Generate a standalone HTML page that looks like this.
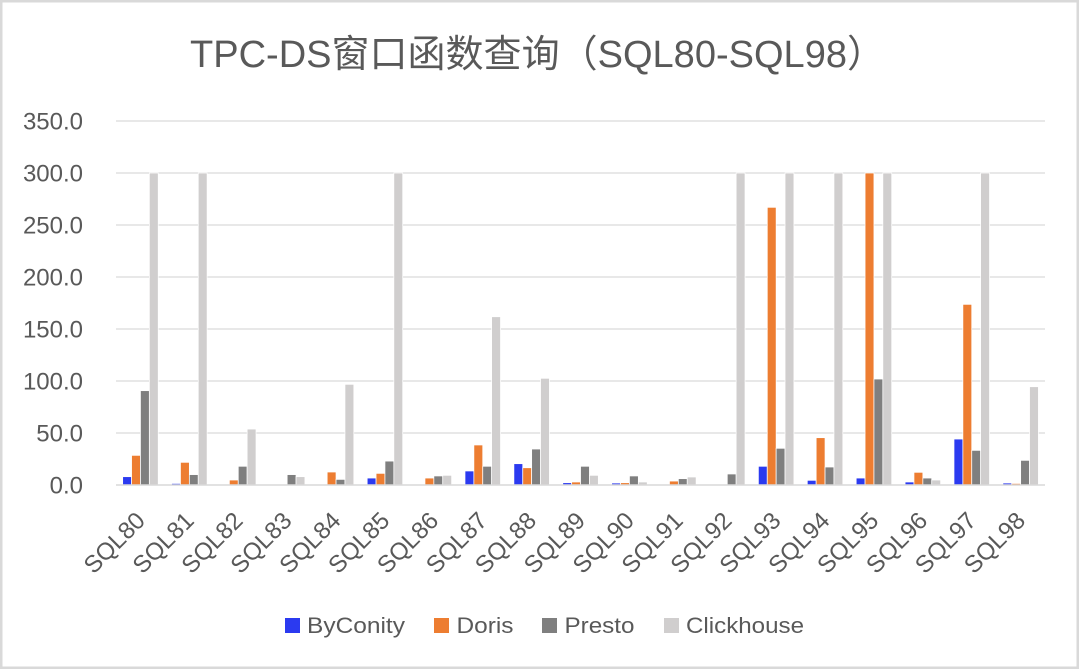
<!DOCTYPE html>
<html>
<head>
<meta charset="utf-8">
<style>
  html,body{margin:0;padding:0;background:#fff;}
  svg{display:block;}
  text{font-family:"Liberation Sans","Noto Sans CJK SC",sans-serif;fill:#595959;}
</style>
</head>
<body>
<svg width="1080" height="669" viewBox="0 0 1080 669" xmlns="http://www.w3.org/2000/svg">
  <rect x="0" y="0" width="1080" height="669" fill="#fff"/>
  <rect x="1.25" y="1.25" width="1076.5" height="666.5" fill="none" stroke="#d9d9d9" stroke-width="2.5"/>

  <!-- Title -->
  <text x="190" y="67" font-size="38" textLength="695" lengthAdjust="spacingAndGlyphs">TPC-DS窗口函数查询（SQL80-SQL98）</text>

  <!-- Gridlines -->
  <g stroke="#d9d9d9" stroke-width="1.3">
    <line x1="116" y1="121" x2="1045" y2="121"/>
    <line x1="116" y1="173" x2="1045" y2="173"/>
    <line x1="116" y1="225" x2="1045" y2="225"/>
    <line x1="116" y1="277" x2="1045" y2="277"/>
    <line x1="116" y1="329" x2="1045" y2="329"/>
    <line x1="116" y1="381" x2="1045" y2="381"/>
    <line x1="116" y1="433" x2="1045" y2="433"/>
  </g>

  <!-- Y labels -->
  <g font-size="24" text-anchor="end">
    <text x="83" y="129.5">350.0</text>
    <text x="83" y="181.5">300.0</text>
    <text x="83" y="233.5">250.0</text>
    <text x="83" y="285.5">200.0</text>
    <text x="83" y="337.5">150.0</text>
    <text x="83" y="389.5">100.0</text>
    <text x="83" y="441.5">50.0</text>
    <text x="83" y="493.5">0.0</text>
  </g>

  <!-- Bars -->
  <g stroke="#fff" stroke-width="0.75">
    <!-- SQL80 -->
    <rect x="122.67" y="476.68" width="8.89" height="8.32" fill="#2B3AF0"/>
    <rect x="131.56" y="455.36" width="8.89" height="29.64" fill="#ED7D31"/>
    <rect x="140.45" y="390.67" width="8.89" height="94.33" fill="#7F7F7F"/>
    <rect x="149.34" y="173" width="8.89" height="312" fill="#D0CECE"/>
    <!-- SQL81 -->
    <rect x="171.57" y="483.44" width="8.89" height="1.56" fill="#2B3AF0"/>
    <rect x="180.46" y="462.33" width="8.89" height="22.67" fill="#ED7D31"/>
    <rect x="189.35" y="474.6" width="8.89" height="10.4" fill="#7F7F7F"/>
    <rect x="198.24" y="173" width="8.89" height="312" fill="#D0CECE"/>
    <!-- SQL82 -->
    <rect x="229.36" y="480.01" width="8.89" height="4.99" fill="#ED7D31"/>
    <rect x="238.25" y="466.28" width="8.89" height="18.72" fill="#7F7F7F"/>
    <rect x="247.14" y="429.05" width="8.89" height="55.95" fill="#D0CECE"/>
    <!-- SQL83 -->
    <rect x="287.15" y="474.6" width="8.89" height="10.4" fill="#7F7F7F"/>
    <rect x="296.04" y="476.68" width="8.89" height="8.32" fill="#D0CECE"/>
    <!-- SQL84 -->
    <rect x="327.16" y="472" width="8.89" height="13" fill="#ED7D31"/>
    <rect x="336.05" y="479.38" width="8.89" height="5.62" fill="#7F7F7F"/>
    <rect x="344.94" y="384.33" width="8.89" height="100.67" fill="#D0CECE"/>
    <!-- SQL85 -->
    <rect x="367.17" y="478.03" width="8.89" height="6.97" fill="#2B3AF0"/>
    <rect x="376.06" y="473.35" width="8.89" height="11.65" fill="#ED7D31"/>
    <rect x="384.95" y="461.08" width="8.89" height="23.92" fill="#7F7F7F"/>
    <rect x="393.84" y="173" width="8.89" height="312" fill="#D0CECE"/>
    <!-- SQL86 -->
    <rect x="424.96" y="478.03" width="8.89" height="6.97" fill="#ED7D31"/>
    <rect x="433.85" y="475.95" width="8.89" height="9.05" fill="#7F7F7F"/>
    <rect x="442.74" y="475.33" width="8.89" height="9.67" fill="#D0CECE"/>
    <!-- SQL87 -->
    <rect x="464.97" y="470.96" width="8.89" height="14.04" fill="#2B3AF0"/>
    <rect x="473.86" y="444.96" width="8.89" height="40.04" fill="#ED7D31"/>
    <rect x="482.75" y="466.28" width="8.89" height="18.72" fill="#7F7F7F"/>
    <rect x="491.64" y="316.73" width="8.89" height="168.27" fill="#D0CECE"/>
    <!-- SQL88 -->
    <rect x="513.87" y="463.68" width="8.89" height="21.32" fill="#2B3AF0"/>
    <rect x="522.76" y="467.74" width="8.89" height="17.26" fill="#ED7D31"/>
    <rect x="531.65" y="449.02" width="8.89" height="35.98" fill="#7F7F7F"/>
    <rect x="540.54" y="378.3" width="8.89" height="106.7" fill="#D0CECE"/>
    <!-- SQL89 -->
    <rect x="562.77" y="482.71" width="8.89" height="2.29" fill="#2B3AF0"/>
    <rect x="571.66" y="481.98" width="8.89" height="3.02" fill="#ED7D31"/>
    <rect x="580.55" y="466.28" width="8.89" height="18.72" fill="#7F7F7F"/>
    <rect x="589.44" y="475.33" width="8.89" height="9.67" fill="#D0CECE"/>
    <!-- SQL90 -->
    <rect x="611.67" y="483.02" width="8.89" height="1.98" fill="#2B3AF0"/>
    <rect x="620.56" y="482.71" width="8.89" height="2.29" fill="#ED7D31"/>
    <rect x="629.45" y="475.95" width="8.89" height="9.05" fill="#7F7F7F"/>
    <rect x="638.34" y="481.98" width="8.89" height="3.02" fill="#D0CECE"/>
    <!-- SQL91 -->
    <rect x="669.46" y="481.05" width="8.89" height="3.95" fill="#ED7D31"/>
    <rect x="678.35" y="478.66" width="8.89" height="6.34" fill="#7F7F7F"/>
    <rect x="687.24" y="476.99" width="8.89" height="8.01" fill="#D0CECE"/>
    <!-- SQL92 -->
    <rect x="727.25" y="473.98" width="8.89" height="11.02" fill="#7F7F7F"/>
    <rect x="736.14" y="173" width="8.89" height="312" fill="#D0CECE"/>
    <!-- SQL93 -->
    <rect x="758.37" y="466.28" width="8.89" height="18.72" fill="#2B3AF0"/>
    <rect x="767.26" y="207.32" width="8.89" height="277.68" fill="#ED7D31"/>
    <rect x="776.15" y="448.29" width="8.89" height="36.71" fill="#7F7F7F"/>
    <rect x="785.04" y="173" width="8.89" height="312" fill="#D0CECE"/>
    <!-- SQL94 -->
    <rect x="807.27" y="480.32" width="8.89" height="4.68" fill="#2B3AF0"/>
    <rect x="816.16" y="437.68" width="8.89" height="47.32" fill="#ED7D31"/>
    <rect x="825.05" y="467.01" width="8.89" height="17.99" fill="#7F7F7F"/>
    <rect x="833.94" y="173" width="8.89" height="312" fill="#D0CECE"/>
    <!-- SQL95 -->
    <rect x="856.17" y="478.03" width="8.89" height="6.97" fill="#2B3AF0"/>
    <rect x="865.06" y="173" width="8.89" height="312" fill="#ED7D31"/>
    <rect x="873.95" y="379.02" width="8.89" height="105.98" fill="#7F7F7F"/>
    <rect x="882.84" y="173" width="8.89" height="312" fill="#D0CECE"/>
    <!-- SQL96 -->
    <rect x="905.07" y="481.98" width="8.89" height="3.02" fill="#2B3AF0"/>
    <rect x="913.96" y="472.31" width="8.89" height="12.69" fill="#ED7D31"/>
    <rect x="922.85" y="478.03" width="8.89" height="6.97" fill="#7F7F7F"/>
    <rect x="931.74" y="480.01" width="8.89" height="4.99" fill="#D0CECE"/>
    <!-- SQL97 -->
    <rect x="953.97" y="439.03" width="8.89" height="45.97" fill="#2B3AF0"/>
    <rect x="962.86" y="304.35" width="8.89" height="180.65" fill="#ED7D31"/>
    <rect x="971.75" y="450.37" width="8.89" height="34.63" fill="#7F7F7F"/>
    <rect x="980.64" y="173" width="8.89" height="312" fill="#D0CECE"/>
    <!-- SQL98 -->
    <rect x="1002.87" y="483.02" width="8.89" height="1.98" fill="#2B3AF0"/>
    <rect x="1011.76" y="483.44" width="8.89" height="1.56" fill="#ED7D31"/>
    <rect x="1020.65" y="460.35" width="8.89" height="24.65" fill="#7F7F7F"/>
    <rect x="1029.54" y="386.72" width="8.89" height="98.28" fill="#D0CECE"/>
  </g>

  <!-- X axis line -->
  <line x1="116" y1="485" x2="1045" y2="485" stroke="#d9d9d9" stroke-width="1.5"/>

  <!-- X labels -->
  <g font-size="24" text-anchor="end">
    <text transform="translate(146.45,522) rotate(-45)">SQL80</text>
    <text transform="translate(195.35,522) rotate(-45)">SQL81</text>
    <text transform="translate(244.25,522) rotate(-45)">SQL82</text>
    <text transform="translate(293.15,522) rotate(-45)">SQL83</text>
    <text transform="translate(342.05,522) rotate(-45)">SQL84</text>
    <text transform="translate(390.95,522) rotate(-45)">SQL85</text>
    <text transform="translate(439.85,522) rotate(-45)">SQL86</text>
    <text transform="translate(488.75,522) rotate(-45)">SQL87</text>
    <text transform="translate(537.65,522) rotate(-45)">SQL88</text>
    <text transform="translate(586.55,522) rotate(-45)">SQL89</text>
    <text transform="translate(635.45,522) rotate(-45)">SQL90</text>
    <text transform="translate(684.35,522) rotate(-45)">SQL91</text>
    <text transform="translate(733.25,522) rotate(-45)">SQL92</text>
    <text transform="translate(782.15,522) rotate(-45)">SQL93</text>
    <text transform="translate(831.05,522) rotate(-45)">SQL94</text>
    <text transform="translate(879.95,522) rotate(-45)">SQL95</text>
    <text transform="translate(928.85,522) rotate(-45)">SQL96</text>
    <text transform="translate(977.75,522) rotate(-45)">SQL97</text>
    <text transform="translate(1026.65,522) rotate(-45)">SQL98</text>
  </g>

  <!-- Legend -->
  <g font-size="22">
    <rect x="285" y="618" width="15" height="15" fill="#2B3AF0"/>
    <text x="307" y="633" textLength="98" lengthAdjust="spacingAndGlyphs">ByConity</text>
    <rect x="434" y="618" width="15" height="15" fill="#ED7D31"/>
    <text x="456.5" y="633" textLength="57" lengthAdjust="spacingAndGlyphs">Doris</text>
    <rect x="542" y="618" width="15" height="15" fill="#7F7F7F"/>
    <text x="564.5" y="633" textLength="70" lengthAdjust="spacingAndGlyphs">Presto</text>
    <rect x="664" y="618" width="15" height="15" fill="#D0CECE"/>
    <text x="686" y="633" textLength="118" lengthAdjust="spacingAndGlyphs">Clickhouse</text>
  </g>
</svg>
</body>
</html>
